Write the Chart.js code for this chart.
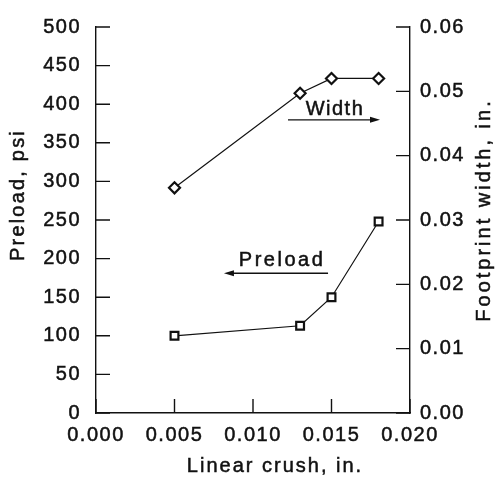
<!DOCTYPE html>
<html>
<head>
<meta charset="utf-8">
<script src="https://cdn.jsdelivr.net/npm/chart.js@4.4.0/dist/chart.umd.min.js"></script>
<style>
  html, body { margin: 0; padding: 0; background: #fff; }
  .Chart-con { width: 497px; height: 483px; }
</style>
</head>
<body>
<div class="Chart-con"><canvas id="myChart"></canvas></div>
<script>
// values
const preloadCrush = [0.005, 0.013, 0.015, 0.018];
const preloadPsi = [100, 113, 150, 248];
const widthCrush = [0.005, 0.013, 0.015, 0.018];
const footprintWidth = [0.035, 0.0497, 0.052, 0.052];

const xTicks = [0, 0.005, 0.010, 0.015, 0.020];
const yTicks = [0, 50, 100, 150, 200, 250, 300, 350, 400, 450, 500];
const y1Ticks = [0, 0.01, 0.02, 0.03, 0.04, 0.05, 0.06];

// axis titles: text, centre in pixels, rotation, tracking
const titles = [
    { text: 'Linear crush, in.', x: 275, y: 466, rot: 0, gap: '2px' },
    { text: 'Preload, psi', x: 18, y: 195, rot: -90, gap: '2.2px' },
    { text: 'Footprint width, in.', x: 484, y: 210, rot: -90, gap: '3px' }
];

// annotation labels with arrows, in data units
const notes = [
    { text: 'Width', axis: 'y1', tx: 0.01522, ty: 0.0463, ax0: 0.01223, ax1: 0.01809, ay: 0.04557, gap: '1.5px' },
    { text: 'Preload', axis: 'y', tx: 0.01185, ty: 190, ax0: 0.01478, ax1: 0.00815, ay: 181, gap: '2.5px' }
];

const FONT = "'Liberation Sans', Arial, Helvetica, sans-serif";
const INK = '#111';
const TEXT_FONT = '20px ' + FONT;

function heavyText(ctx, text, x, y) {
    ctx.fillText(text, x, y);
    ctx.strokeText(text, x, y);
}

const spacing = {
    id: 'spacing',
    beforeUpdate(chart) { chart.ctx.letterSpacing = '1.5px'; },
    beforeDraw(chart) { chart.ctx.letterSpacing = '1.5px'; }
};

// tick marks pointing into the plot, plus axis titles
const innerTicks = {
    id: 'innerTicks',
    afterDraw(chart) {
        const ctx = chart.ctx;
        const len = 14;
        ctx.save();
        ctx.strokeStyle = INK;
        ctx.lineWidth = 1.4;
        ctx.beginPath();
        const x = chart.scales.x, y = chart.scales.y, y1 = chart.scales.y1;
        xTicks.forEach(v => {
            const px = x.getPixelForValue(v);
            ctx.moveTo(px, x.top);
            ctx.lineTo(px, x.top - len);
        });
        yTicks.forEach(v => {
            const py = y.getPixelForValue(v);
            ctx.moveTo(y.right, py);
            ctx.lineTo(y.right + len, py);
        });
        y1Ticks.forEach(v => {
            const py = y1.getPixelForValue(v);
            ctx.moveTo(y1.left, py);
            ctx.lineTo(y1.left - len, py);
        });
        ctx.stroke();
        ctx.restore();

        titles.forEach(t => {
            ctx.save();
            ctx.font = TEXT_FONT;
            ctx.letterSpacing = t.gap;
            ctx.fillStyle = INK;
            ctx.strokeStyle = INK;
            ctx.lineWidth = 0.5;
            ctx.textAlign = 'center';
            ctx.textBaseline = 'middle';
            ctx.translate(t.x, t.y);
            ctx.rotate(t.rot * Math.PI / 180);
            heavyText(ctx, t.text, 0, 0);
            ctx.restore();
        });
    }
};

const arrowNotes = {
    id: 'arrowNotes',
    afterDatasetsDraw(chart) {
        const ctx = chart.ctx;
        const x = chart.scales.x;
        ctx.save();
        ctx.fillStyle = INK;
        ctx.strokeStyle = INK;
        ctx.font = TEXT_FONT;
        ctx.textAlign = 'center';
        ctx.textBaseline = 'alphabetic';
        notes.forEach(n => {
            const ys = chart.scales[n.axis];
            ctx.letterSpacing = n.gap;
            ctx.lineWidth = 0.5;
            heavyText(ctx, n.text, x.getPixelForValue(n.tx), ys.getPixelForValue(n.ty));
            const x0 = x.getPixelForValue(n.ax0);
            const x1 = x.getPixelForValue(n.ax1);
            const py = ys.getPixelForValue(n.ay);
            const dir = x1 > x0 ? 1 : -1;
            ctx.lineWidth = 1.3;
            ctx.beginPath();
            ctx.moveTo(x0, py);
            ctx.lineTo(x1 - dir * 6, py);
            ctx.stroke();
            ctx.beginPath();
            ctx.moveTo(x1, py);
            ctx.lineTo(x1 - dir * 10, py - 3);
            ctx.lineTo(x1 - dir * 10, py + 3);
            ctx.closePath();
            ctx.fill();
        });
        ctx.restore();
    }
};

function createChart() {
    const ctx = document.getElementById('myChart').getContext('2d');
    const tickFont = { family: FONT, size: 20 };
    const tickBase = { color: INK, font: tickFont, textStrokeColor: INK, textStrokeWidth: 0.5 };
    new Chart(ctx, {
        type: 'scatter',
        data: {
            datasets: [
                {
                    label: 'Preload',
                    data: preloadCrush.map((c, i) => ({ x: c, y: preloadPsi[i] })),
                    yAxisID: 'y',
                    showLine: true,
                    borderColor: INK,
                    borderWidth: 1.2,
                    pointStyle: 'rect',
                    pointRadius: 5.5,
                    pointBorderWidth: 2.2,
                    pointBackgroundColor: '#fff',
                    pointBorderColor: INK
                },
                {
                    label: 'Width',
                    data: widthCrush.map((c, i) => ({ x: c, y: footprintWidth[i] })),
                    yAxisID: 'y1',
                    showLine: true,
                    borderColor: INK,
                    borderWidth: 1.2,
                    pointStyle: 'rectRot',
                    pointRadius: 5.5,
                    pointBorderWidth: 2.2,
                    pointBackgroundColor: '#fff',
                    pointBorderColor: INK
                }
            ]
        },
        options: {
            responsive: true,
            maintainAspectRatio: false,
            animation: false,
            layout: { padding: { top: 16, left: 0, right: 0, bottom: 0 } },
            plugins: {
                legend: { display: false },
                tooltip: { enabled: false }
            },
            scales: {
                x: {
                    type: 'linear',
                    min: 0,
                    max: 0.02,
                    afterFit: s => { s.height = 70; },
                    afterBuildTicks: s => { s.ticks = xTicks.map(v => ({ value: v })); },
                    grid: { drawOnChartArea: false, drawTicks: false },
                    border: { display: true, color: INK, width: 1.4 },
                    ticks: Object.assign({ padding: 10, maxRotation: 0, callback: v => v.toFixed(3) }, tickBase),
                    title: { display: false }
                },
                y: {
                    position: 'left',
                    min: 0,
                    max: 500,
                    afterFit: s => { s.width = 96; },
                    afterBuildTicks: s => { s.ticks = yTicks.map(v => ({ value: v })); },
                    grid: { drawOnChartArea: false, drawTicks: false },
                    border: { display: true, color: INK, width: 1.4 },
                    ticks: Object.assign({ padding: 15, callback: v => String(v) }, tickBase),
                    title: { display: false }
                },
                y1: {
                    position: 'right',
                    min: 0,
                    max: 0.06,
                    afterFit: s => { s.width = 87; },
                    afterBuildTicks: s => { s.ticks = y1Ticks.map(v => ({ value: v })); },
                    grid: { drawOnChartArea: false, drawTicks: false },
                    border: { display: true, color: INK, width: 1.4 },
                    ticks: Object.assign({ padding: 10, callback: v => v.toFixed(2) }, tickBase),
                    title: { display: false }
                }
            }
        },
        plugins: [spacing, innerTicks, arrowNotes]
    });
}

createChart();
</script>
</body>
</html>
